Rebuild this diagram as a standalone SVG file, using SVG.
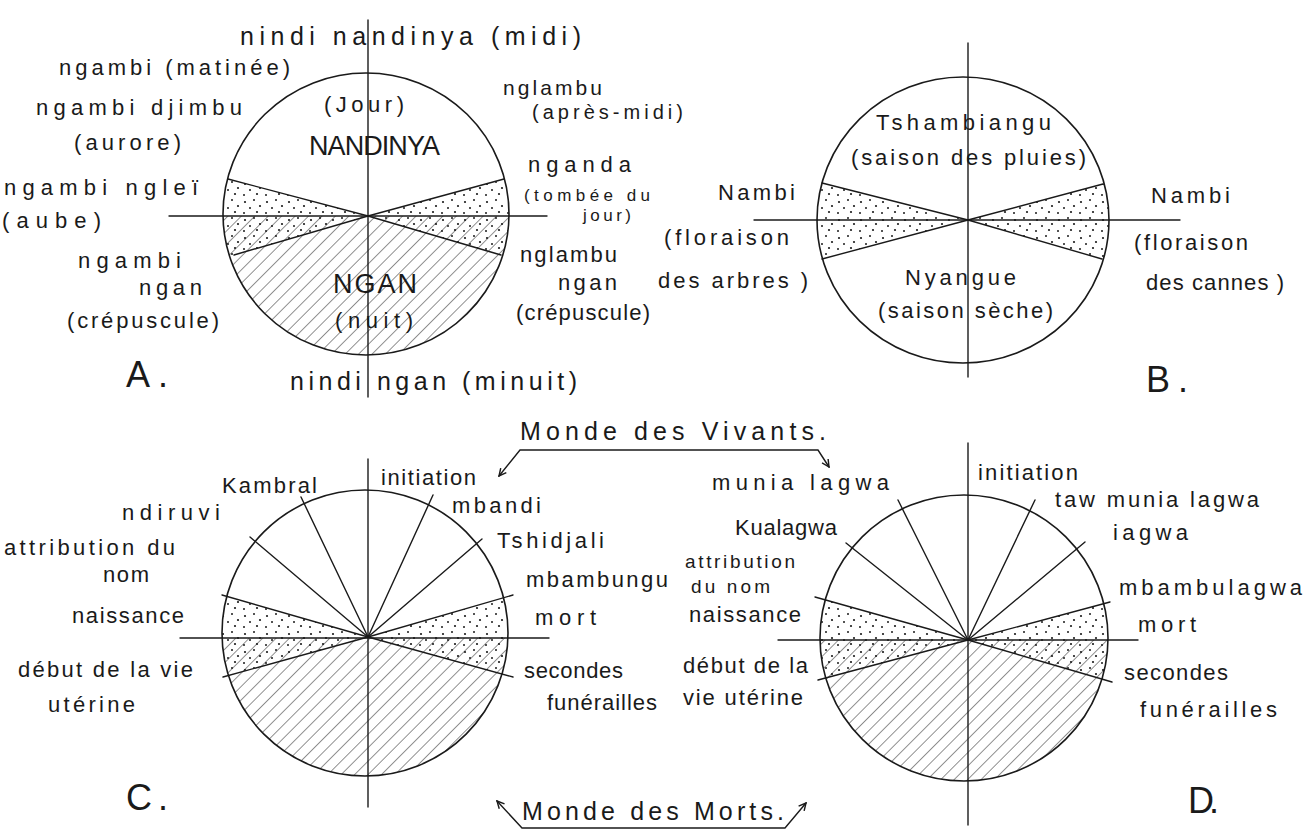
<svg xmlns="http://www.w3.org/2000/svg" width="1312" height="832" viewBox="0 0 1312 832">
<style>
.ln{stroke:#1a1a1a;stroke-width:1.4;fill:none;stroke-linecap:round}
.el{stroke:#1a1a1a;stroke-width:1.6;fill:none}
.t{font-family:"Liberation Sans",Arial,sans-serif;font-size:22px;fill:#1a1a1a}
.s{font-size:19px}
.xs{font-size:17px}
.m{font-size:25px}
.cap{font-size:27px}
.big{font-size:36px}
</style>
<defs>
<pattern id="hatch" width="9.5" height="9.5" patternUnits="userSpaceOnUse" patternTransform="rotate(45)">
<line x1="0" y1="0" x2="0" y2="9.5" stroke="#222" stroke-width="1"/>
</pattern>
<pattern id="dots" width="22" height="18" patternUnits="userSpaceOnUse">
<circle cx="3" cy="4" r="1.1" fill="#1a1a1a"/><circle cx="12" cy="2" r="1" fill="#1a1a1a"/>
<circle cx="18" cy="8" r="1.1" fill="#1a1a1a"/><circle cx="8" cy="10" r="1" fill="#1a1a1a"/>
<circle cx="15" cy="14" r="1.1" fill="#1a1a1a"/><circle cx="2" cy="15" r="1" fill="#1a1a1a"/>
</pattern>
<clipPath id="cA"><ellipse cx="366" cy="214" rx="143" ry="141"/></clipPath>
<clipPath id="cB"><ellipse cx="963" cy="220" rx="146" ry="143"/></clipPath>
<clipPath id="cC"><ellipse cx="365" cy="633" rx="143" ry="143"/></clipPath>
<clipPath id="cD"><ellipse cx="964" cy="638" rx="144" ry="143"/></clipPath>
<marker id="ah" viewBox="0 0 10 10" refX="9" refY="5" markerWidth="9" markerHeight="9" markerUnits="userSpaceOnUse" orient="auto-start-reverse">
<path d="M1,1 L9,5 L1,9" fill="none" stroke="#1a1a1a" stroke-width="1.6"/>
</marker>
</defs>
<rect width="1312" height="832" fill="#fff"/>

<g id="diagramA">
<g clip-path="url(#cA)">
<rect x="200" y="216" width="340" height="150" fill="url(#hatch)"/>
<polygon points="368,216 200,171.6 200,264.9" fill="url(#dots)"/>
<polygon points="368,216 540,169.2 540,266.4" fill="url(#dots)"/>
</g>
<ellipse class="el" cx="366" cy="214" rx="143" ry="141"/>
<line class="ln" x1="368" y1="20" x2="368" y2="397"/>
<line class="ln" x1="169" y1="216" x2="547" y2="216"/>
<line class="ln" x1="368" y1="216" x2="228" y2="179"/>
<line class="ln" x1="368" y1="216" x2="234" y2="255"/>
<line class="ln" x1="368" y1="216" x2="504" y2="179"/>
<line class="ln" x1="368" y1="216" x2="501" y2="255"/>
<text class="t m" x="240" y="45" textLength="341" lengthAdjust="spacing">nindi nandinya (midi)</text>
<text class="t" x="59" y="75" textLength="231" lengthAdjust="spacing">ngambi (matinée)</text>
<text class="t" x="36" y="115" textLength="206" lengthAdjust="spacing">ngambi djimbu</text>
<text class="t" x="74" y="150" textLength="107" lengthAdjust="spacing">(aurore)</text>
<text class="t" x="4" y="195" textLength="194" lengthAdjust="spacing">ngambi ngleï</text>
<text class="t" x="2" y="228" textLength="99" lengthAdjust="spacing">(aube)</text>
<text class="t" x="78" y="268" textLength="103" lengthAdjust="spacing">ngambi</text>
<text class="t" x="139" y="295" textLength="63" lengthAdjust="spacing">ngan</text>
<text class="t" x="67" y="328" textLength="152" lengthAdjust="spacing">(crépuscule)</text>
<text class="t" x="324" y="112" textLength="80" lengthAdjust="spacing">(Jour)</text>
<text class="t cap" x="309" y="155" textLength="131" lengthAdjust="spacing">NANDINYA</text>
<text class="t" style="font-size:21px" x="503" y="95" textLength="99" lengthAdjust="spacing">nglambu</text>
<text class="t" style="font-size:20px" x="532" y="119" textLength="151" lengthAdjust="spacing">(après-midi)</text>
<text class="t" x="528" y="172" textLength="103" lengthAdjust="spacing">nganda</text>
<text class="t xs" x="524" y="201" textLength="126" lengthAdjust="spacing">(tombée du</text>
<text class="t xs" x="583" y="221" textLength="48" lengthAdjust="spacing">jour)</text>
<text class="t" x="520" y="262" textLength="97" lengthAdjust="spacing">nglambu</text>
<text class="t" x="558" y="290" textLength="59" lengthAdjust="spacing">ngan</text>
<text class="t" x="516" y="320" textLength="134" lengthAdjust="spacing">(crépuscule)</text>
<text class="t cap" x="333" y="293" textLength="84" lengthAdjust="spacing">NGAN</text>
<text class="t" x="335" y="328" textLength="78" lengthAdjust="spacing">(nuit)</text>
<text class="t big" x="126" y="387" textLength="42" lengthAdjust="spacing">A.</text>
<text class="t m" x="290" y="390" textLength="287" lengthAdjust="spacing">nindi ngan (minuit)</text>
</g>

<g id="diagramB">
<g clip-path="url(#cB)">
<polygon points="968,220 800,177.4 800,264.9" fill="url(#dots)"/>
<polygon points="968,220 1130,176.8 1130,267.2" fill="url(#dots)"/>
</g>
<ellipse class="el" cx="963" cy="220" rx="146" ry="143"/>
<line class="ln" x1="968" y1="43" x2="968" y2="377"/>
<line class="ln" x1="754" y1="220" x2="1180" y2="220"/>
<line class="ln" x1="968" y1="220" x2="822" y2="183"/>
<line class="ln" x1="968" y1="220" x2="822" y2="259"/>
<line class="ln" x1="968" y1="220" x2="1103" y2="184"/>
<line class="ln" x1="968" y1="220" x2="1102" y2="259"/>
<text class="t" x="876" y="130" textLength="175" lengthAdjust="spacing">Tshambiangu</text>
<text class="t" x="851" y="165" textLength="235" lengthAdjust="spacing">(saison des pluies)</text>
<text class="t" x="718" y="200" textLength="77" lengthAdjust="spacing">Nambi</text>
<text class="t" x="664" y="245" textLength="125" lengthAdjust="spacing">(floraison</text>
<text class="t" x="658" y="288" textLength="150" lengthAdjust="spacing">des arbres )</text>
<text class="t" x="1151" y="203" textLength="79" lengthAdjust="spacing">Nambi</text>
<text class="t" x="1134" y="250" textLength="114" lengthAdjust="spacing">(floraison</text>
<text class="t" x="1146" y="290" textLength="138" lengthAdjust="spacing">des cannes )</text>
<text class="t" x="905" y="285" textLength="111" lengthAdjust="spacing">Nyangue</text>
<text class="t" x="878" y="318" textLength="175" lengthAdjust="spacing">(saison sèche)</text>
<text class="t big" x="1146" y="392" textLength="42" lengthAdjust="spacing">B.</text>
</g>

<g id="diagramC">
<g clip-path="url(#cC)">
<rect x="200" y="638" width="340" height="150" fill="url(#hatch)"/>
<polygon points="368,637 200,588.7 200,683.3" fill="url(#dots)"/>
<polygon points="368,637 535,588.6 535,683.1" fill="url(#dots)"/>
</g>
<ellipse class="el" cx="365" cy="633" rx="143" ry="143"/>
<line class="ln" x1="368" y1="459" x2="368" y2="807"/>
<line class="ln" x1="180" y1="638" x2="549" y2="638"/>
<line class="ln" x1="368" y1="637" x2="301" y2="497"/>
<line class="ln" x1="368" y1="637" x2="250" y2="537"/>
<line class="ln" x1="368" y1="637" x2="222" y2="595"/>
<line class="ln" x1="368" y1="637" x2="223" y2="677"/>
<line class="ln" x1="368" y1="637" x2="433" y2="495"/>
<line class="ln" x1="368" y1="637" x2="482" y2="539"/>
<line class="ln" x1="368" y1="637" x2="513" y2="595"/>
<line class="ln" x1="368" y1="637" x2="513" y2="677"/>
<text class="t" x="381" y="485" textLength="95" lengthAdjust="spacing">initiation</text>
<text class="t" x="222" y="493" textLength="95" lengthAdjust="spacing">Kambral</text>
<text class="t" x="122" y="520" textLength="98" lengthAdjust="spacing">ndiruvi</text>
<text class="t" x="4" y="555" textLength="171" lengthAdjust="spacing">attribution du</text>
<text class="t" x="103" y="582" textLength="46" lengthAdjust="spacing">nom</text>
<text class="t" x="72" y="623" textLength="112" lengthAdjust="spacing">naissance</text>
<text class="t" x="18" y="677" textLength="175" lengthAdjust="spacing">début de la vie</text>
<text class="t" x="48" y="712" textLength="87" lengthAdjust="spacing">utérine</text>
<text class="t" x="452" y="513" textLength="89" lengthAdjust="spacing">mbandi</text>
<text class="t" x="497" y="548" textLength="107" lengthAdjust="spacing">Tshidjali</text>
<text class="t" x="526" y="587" textLength="142" lengthAdjust="spacing">mbambungu</text>
<text class="t" x="535" y="625" textLength="61" lengthAdjust="spacing">mort</text>
<text class="t" x="524" y="678" textLength="99" lengthAdjust="spacing">secondes</text>
<text class="t" x="547" y="710" textLength="110" lengthAdjust="spacing">funérailles</text>
<text class="t big" x="126" y="810" textLength="42" lengthAdjust="spacing">C.</text>
</g>

<g id="diagramD">
<g clip-path="url(#cD)">
<rect x="795" y="640" width="340" height="150" fill="url(#hatch)"/>
<polygon points="968,640 795,591.4 795,686.1" fill="url(#dots)"/>
<polygon points="968,640 1135,595.3 1135,688.7" fill="url(#dots)"/>
</g>
<ellipse class="el" cx="964" cy="638" rx="144" ry="143"/>
<line class="ln" x1="968" y1="443" x2="968" y2="825"/>
<line class="ln" x1="778" y1="640" x2="1138" y2="640"/>
<line class="ln" x1="968" y1="640" x2="898" y2="500"/>
<line class="ln" x1="968" y1="640" x2="846" y2="543"/>
<line class="ln" x1="968" y1="640" x2="815" y2="597"/>
<line class="ln" x1="968" y1="640" x2="818" y2="680"/>
<line class="ln" x1="968" y1="640" x2="1035" y2="500"/>
<line class="ln" x1="968" y1="640" x2="1085" y2="542"/>
<line class="ln" x1="968" y1="640" x2="1110" y2="602"/>
<line class="ln" x1="968" y1="640" x2="1112" y2="682"/>
<text class="t" x="978" y="480" textLength="100" lengthAdjust="spacing">initiation</text>
<text class="t" x="712" y="490" textLength="177" lengthAdjust="spacing">munia lagwa</text>
<text class="t" x="1055" y="507" textLength="204" lengthAdjust="spacing">taw munia lagwa</text>
<text class="t" x="735" y="535" textLength="102" lengthAdjust="spacing">Kualagwa</text>
<text class="t" x="1113" y="540" textLength="75" lengthAdjust="spacing">iagwa</text>
<text class="t s" x="685" y="568" textLength="110" lengthAdjust="spacing">attribution</text>
<text class="t s" x="691" y="593" textLength="79" lengthAdjust="spacing">du nom</text>
<text class="t" x="689" y="622" textLength="112" lengthAdjust="spacing">naissance</text>
<text class="t" x="683" y="673" textLength="125" lengthAdjust="spacing">début de la</text>
<text class="t" x="683" y="705" textLength="120" lengthAdjust="spacing">vie utérine</text>
<text class="t" x="1119" y="595" textLength="183" lengthAdjust="spacing">mbambulagwa</text>
<text class="t" x="1138" y="632" textLength="58" lengthAdjust="spacing">mort</text>
<text class="t" x="1124" y="680" textLength="104" lengthAdjust="spacing">secondes</text>
<text class="t" x="1140" y="717" textLength="137" lengthAdjust="spacing">funérailles</text>
<text class="t big" x="1188" y="813" textLength="31" lengthAdjust="spacing">D.</text>
</g>

<g id="worlds">
<text class="t m" x="520" y="440" textLength="306" lengthAdjust="spacing">Monde des Vivants.</text>
<text class="t m" x="522" y="820" textLength="262" lengthAdjust="spacing">Monde des Morts.</text>
</g>

<g id="connectors">
<path class="ln" d="M499,476 L520,450 L818,450 L829,467" marker-start="url(#ah)" marker-end="url(#ah)"/>
<path class="ln" d="M497,801 L522,828 L785,828 L806,803" marker-start="url(#ah)" marker-end="url(#ah)"/>
</g>
</svg>
